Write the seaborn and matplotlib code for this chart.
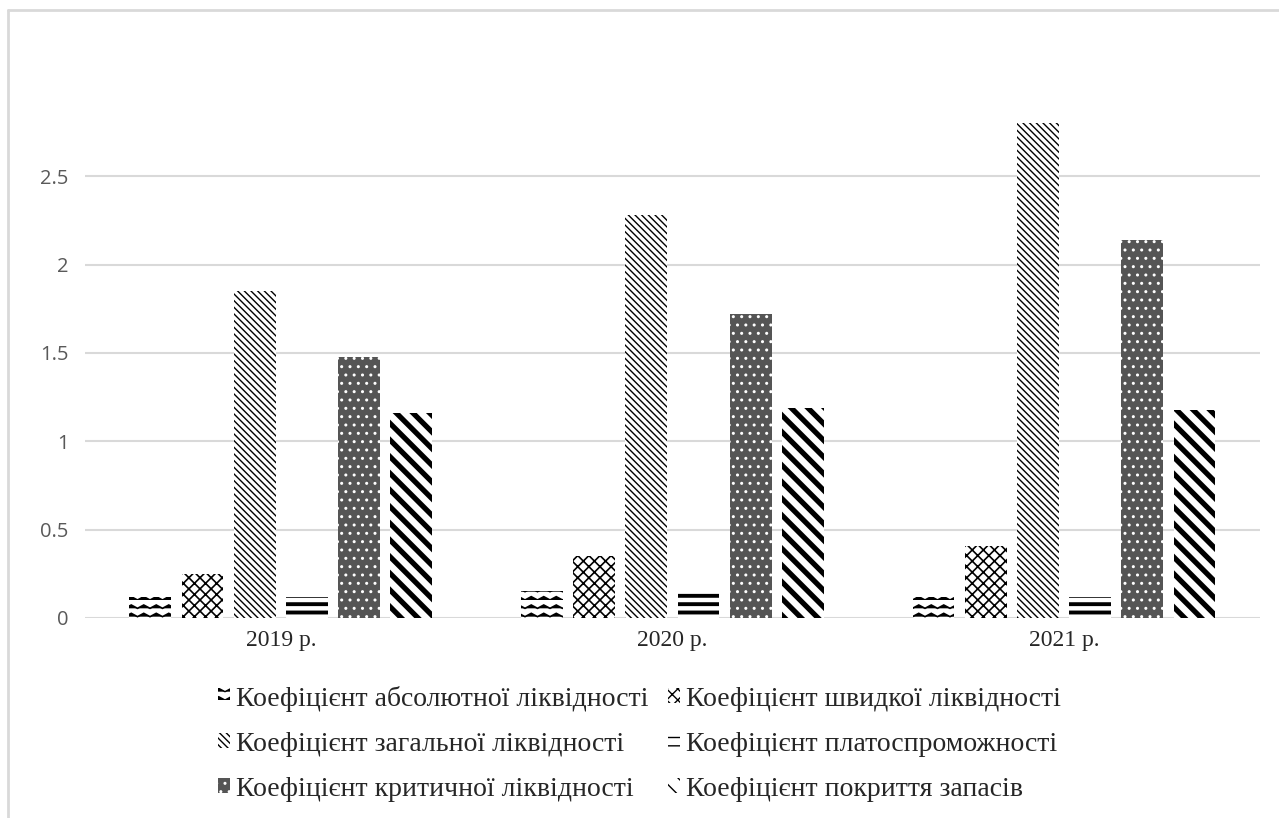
import warnings
import numpy as np
import pandas as pd
import matplotlib
matplotlib.use("Agg")
import matplotlib.pyplot as plt
import matplotlib.hatch as mhatch
from matplotlib.path import Path
from matplotlib.lines import Line2D
import seaborn as sns

warnings.filterwarnings("ignore")

years = ["2019 р.", "2020 р.", "2021 р."]
series = [
    "Коефіцієнт абсолютної ліквідності",
    "Коефіцієнт швидкої ліквідності",
    "Коефіцієнт загальної ліквідності",
    "Коефіцієнт платоспроможності",
    "Коефіцієнт критичної ліквідності",
    "Коефіцієнт покриття запасів",
]
absolute = [0.12, 0.15, 0.12]
quick = [0.25, 0.35, 0.41]
general = [1.85, 2.28, 2.80]
solvency = [0.12, 0.15, 0.12]
critical = [1.48, 1.72, 2.14]
coverage = [1.16, 1.19, 1.18]
yticks = [0, 0.5, 1, 1.5, 2, 2.5]


# wavy hatch ("~") like the excel pattern
class WaveHatch(mhatch.HatchPatternBase):
    def __init__(self, hatch, density):
        self.num_lines = int(hatch.count("~") * density)
        self.periods = int(round(self.num_lines * 0.7))
        self.steps = 2 * self.periods
        self.num_vertices = self.num_lines * (self.steps + 1)

    def set_vertices_and_codes(self, vertices, codes):
        n = self.num_lines
        xs = np.linspace(0, 1, self.steps + 1)
        amp = 0.4 / n
        i = 0
        for r in range(n):
            y0 = r / n
            for j, x in enumerate(xs):
                vertices[i] = (x, y0 + amp * (j % 2))
                codes[i] = Path.MOVETO if j == 0 else Path.LINETO
                i += 1


mhatch._hatch_types.append(WaveHatch)

df = pd.DataFrame({
    "year": years * 6,
    "kind": np.repeat(series, 3),
    "value": absolute + quick + general + solvency + critical + coverage,
})

sns.set_style("white")
plt.rcParams["font.family"] = ["Liberation Serif", "DejaVu Serif"]

fig = plt.figure(figsize=(12.79, 8.18), dpi=100)
ax = fig.add_axes([0.0665, 0.2445, 0.9185, 0.648])

sns.barplot(data=df, x="year", y="value", hue="kind", order=years, hue_order=series,
            width=0.8, gap=0.2, ax=ax, legend=False)

# pattern, face, hatch color, hatch width
styles = [
    ("~~", "white", "black", 1.2),
    ("xxx", "white", "black", 1.2),
    ("\\\\\\\\\\", "white", "black", 1.0),
    ("--", "white", "black", 2.8),
    ("..", "#555555", "white", 1.0),
    ("\\\\", "white", "black", 3.8),
]
for cont, (h, fc, hc, lw) in zip(ax.containers, styles):
    for bar in cont.patches:
        bar.set_facecolor(fc)
        bar.set_edgecolor(hc)
        bar.set_linewidth(0)
        bar.set_hatch(h)
        if hasattr(bar, "set_hatch_linewidth"):
            bar.set_hatch_linewidth(lw)

ax.set_ylim(0, 3)
ax.set_yticks(yticks)
ax.set_yticklabels(["0", "0.5", "1", "1.5", "2", "2.5"], family="Open Sans", color="#595959", fontsize=14.5)
ax.tick_params(axis="y", length=0, pad=12)
ax.tick_params(axis="x", length=0, pad=9, labelsize=17)
ax.set_xlabel("")
ax.set_ylabel("")
ax.yaxis.grid(True, color="#d9d9d9", linewidth=1.5)
ax.set_axisbelow(True)
sns.despine(ax=ax, left=True, bottom=True)

order = [0, 2, 4, 1, 3, 5]
fig.legend([ax.containers[i] for i in order], [series[i] for i in order],
           loc="center", bbox_to_anchor=(0.5, 0.091), ncol=2, frameon=False,
           fontsize=20, handlelength=0.45, handleheight=0.45, handletextpad=0.2,
           columnspacing=0.7, labelspacing=0.72)

fig.add_artist(Line2D([8 / 1279, 8 / 1279], [0, 1 - 10 / 818], transform=fig.transFigure,
                      color="#d9d9d9", linewidth=2))
fig.add_artist(Line2D([8 / 1279, 1], [1 - 10 / 818, 1 - 10 / 818], transform=fig.transFigure,
                      color="#d9d9d9", linewidth=2))

fig.savefig("out.png", dpi=100)
